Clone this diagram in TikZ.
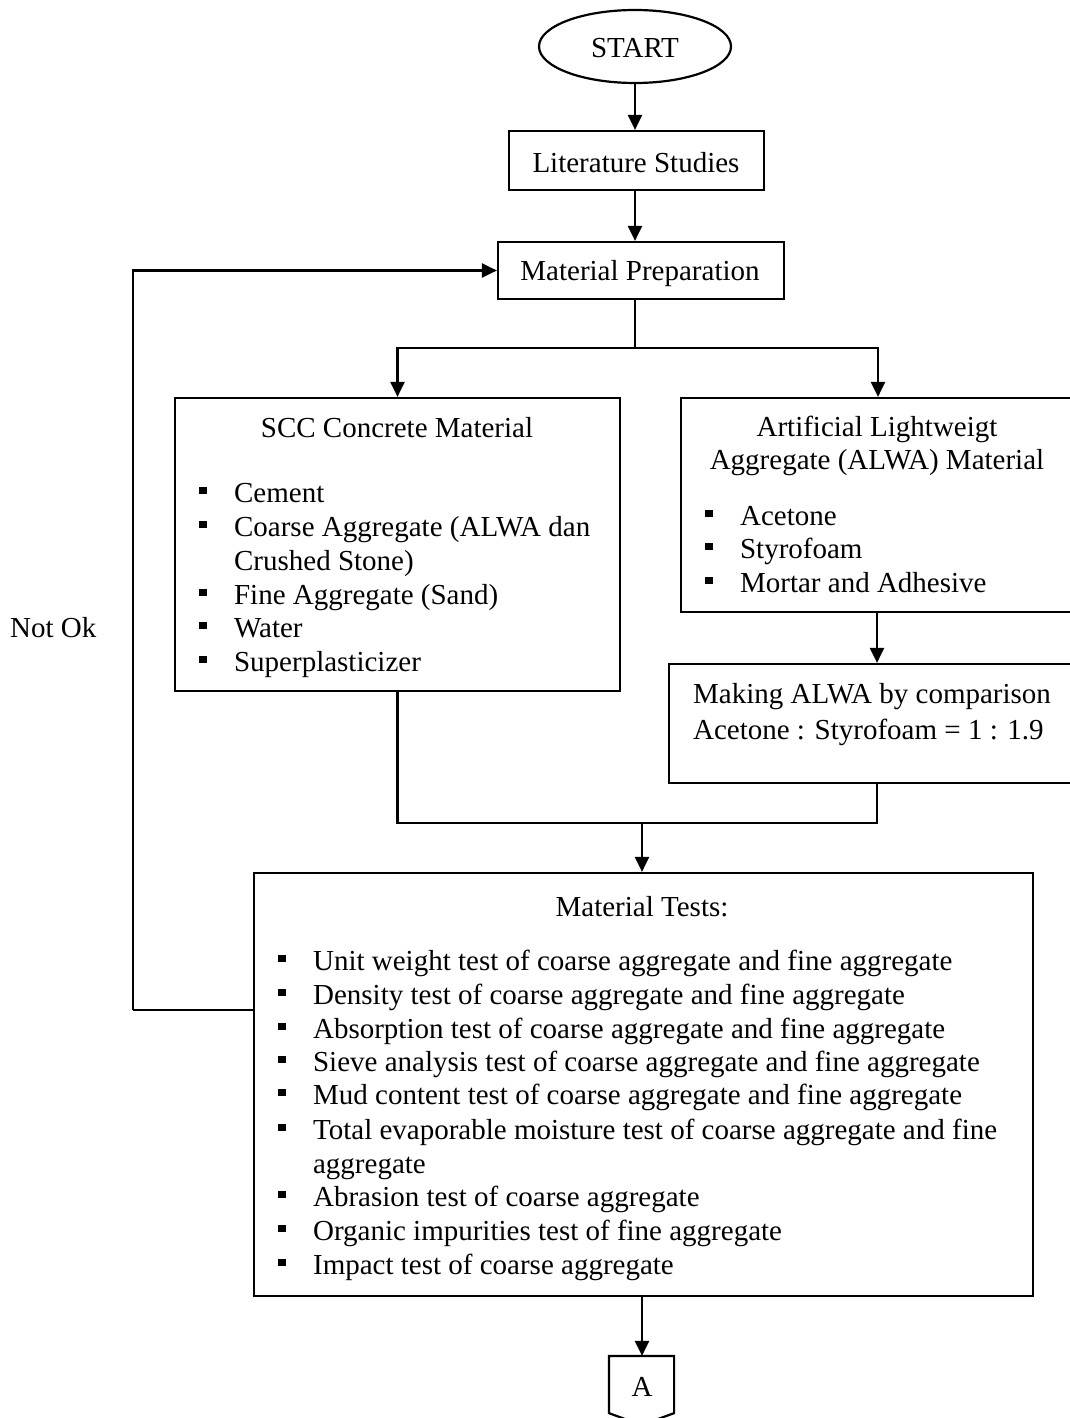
\documentclass[tikz,border=0pt]{standalone}
\usepackage{fontspec}
\setmainfont{Liberation Serif}
\usetikzlibrary{arrows.meta,shapes.geometric}
\newcommand{\bul}{\rule[8pt]{8pt}{7pt}\hspace{27pt}}
\begin{document}
\begin{tikzpicture}[x=1pt,y=-1pt,
  font=\fontsize{29}{34}\selectfont,
  line width=2.2pt,
  arr/.style={-{Triangle[length=15pt,width=14pt]}},
  box/.style={draw, rectangle, inner sep=0pt},
  txt/.style={inner sep=0pt, anchor=base},
  itm/.style={inner sep=0pt, anchor=base west, align=left}]
\useasboundingbox (0,0) rectangle (1070,1418);
% boxes
\node[draw, ellipse, minimum width=192pt, minimum height=73pt, inner sep=0pt] (start) at (635,46.5) {};
\node[box, minimum width=255pt, minimum height=59pt] (lit) at (636.5,160.5) {};
\node[box, minimum width=286pt, minimum height=57pt] (prep) at (641,270.5) {};
\node[box, minimum width=445pt, minimum height=293pt] (scc) at (397.5,544.5) {};
\node[box, minimum width=394pt, minimum height=214pt] (alwa) at (878,505) {};
\node[box, minimum width=416pt, minimum height=119pt] (making) at (877,723.5) {};
\node[box, minimum width=779pt, minimum height=423pt] (tests) at (643.5,1084.5) {};
\node[inner sep=0pt, minimum width=63pt, minimum height=55pt] (conA) at (641.5,1384.5) {};
\draw (conA.north west) -- (conA.north east) -- (conA.south east) -- ([yshift=-12pt]conA.south) -- (conA.south west) -- cycle;
% coordinates
\coordinate (split) at (635,348);
\coordinate (merge) at (642,823);
\coordinate (fb) at (133,1010);
% texts
\node[txt] (tstart) at (635,58) {START};
\node[txt] (tlit) at (636,172) {Literature Studies};
\node[txt] (tprep) at (640,280) {Material Preparation};
\node[txt] (tscc) at (397,437) {SCC Concrete Material};
\node[itm] (s1) at (198,502) {\bul Cement};
\node[itm] (s2) at (198,536) {\bul\parbox[t]{380pt}{\fontsize{29}{34}\selectfont Coarse Aggregate (ALWA dan\\Crushed Stone)}};
\node[itm] (s3) at (198,604) {\bul Fine Aggregate (Sand)};
\node[itm] (s4) at (198,637) {\bul Water};
\node[itm] (s5) at (198,671) {\bul Superplasticizer};
\node[txt] (ta1) at (877,436) {Artificial Lightweigt};
\node[txt] (ta2) at (877,469) {Aggregate (ALWA) Material};
\node[itm] (a1) at (704,525) {\bul Acetone};
\node[itm] (a2) at (704,558) {\bul Styrofoam};
\node[itm] (a3) at (704,592) {\bul Mortar and Adhesive};
\node[itm] (m1) at (692,703) {Making ALWA by comparison};
\node[itm] (m2) at (692,739) {Acetone : Styrofoam = 1 : 1.9};
\node[txt] (ttests) at (642,916) {Material Tests:};
\node[itm] (t1) at (277,970) {\bul Unit weight test of coarse aggregate and fine aggregate};
\node[itm] (t2) at (277,1004) {\bul Density test of coarse aggregate and fine aggregate};
\node[itm] (t3) at (277,1038) {\bul Absorption test of coarse aggregate and fine aggregate};
\node[itm] (t4) at (277,1071) {\bul Sieve analysis test of coarse aggregate and fine aggregate};
\node[itm] (t5) at (277,1104) {\bul Mud content test of coarse aggregate and fine aggregate};
\node[itm] (t6) at (277,1139) {\bul\parbox[t]{720pt}{\fontsize{29}{34}\selectfont Total evaporable moisture test of coarse aggregate and fine\\aggregate}};
\node[itm] (t7) at (277,1206) {\bul Abrasion test of coarse aggregate};
\node[itm] (t8) at (277,1240) {\bul Organic impurities test of fine aggregate};
\node[itm] (t9) at (277,1274) {\bul Impact test of coarse aggregate};
\node[txt] (tA) at (642,1396) {A};
\node[itm] (notok) at (9,637) {Not Ok};
% connectors
\draw[arr] (start.south) -- (start.south |- lit.north);
\draw[arr] (start.south |- lit.south) -- (start.south |- prep.north);
\draw (split |- prep.south) -- (split);
\draw[arr] (split) -| (scc.north);
\draw[arr] (split) -| (alwa.north);
\draw[arr] (alwa.south -| making.north) -- (making.north);
\draw (scc.south) |- (merge) -| (making.south);
\draw[arr] (merge) -- (merge |- tests.north);
\draw (tests.west |- fb) -- (fb);
\draw[arr] (fb) |- (prep.west);
\draw[arr] (merge |- tests.south) -- (merge |- conA.north);
\end{tikzpicture}
\end{document}
